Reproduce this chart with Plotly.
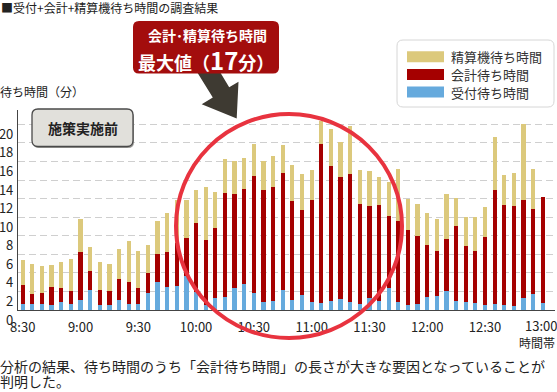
import plotly.graph_objects as go

# ---- data (minutes) ----
times = ["8:30","8:35","8:40","8:45","8:50","8:55",
         "9:00","9:05","9:10","9:15","9:20","9:25",
         "9:30","9:35","9:40","9:45","9:50","9:55",
         "10:00","10:05","10:10","10:15","10:20","10:25",
         "10:30","10:35","10:40","10:45","10:50","10:55",
         "11:00","11:05","11:10","11:15","11:20","11:25",
         "11:30","11:35","11:40","11:45","11:50","11:55",
         "12:00","12:05","12:10","12:15","12:20","12:25",
         "12:30","12:35","12:40","12:45","12:50","12:55",
         "13:00"]
tick_labels = ["8:30","9:00","9:30","10:00","10:30","11:00","11:30","12:00","12:30","13:00"]

uketsuke = [0.7,0.7,0.7,0.5,0.9,0.7,1.1,2.2,0.5,0.5,1.1,0.7,0.7,1.8,3.0,2.5,2.6,3.7,
            1.9,0.5,1.3,1.4,2.4,2.8,1.8,0.9,1.0,2.2,1.1,1.6,0.9,0.8,1.0,1.2,0.9,0.7,
            1.3,1.0,2.4,0.9,0.5,0.7,1.4,1.5,2.1,1.0,0.9,0.8,0.5,0.7,0.5,0.4,1.3,1.7,0.8]
kaikei = [2.0,1.0,1.1,2.0,1.5,1.4,5.2,2.0,1.7,1.5,2.2,2.3,1.7,2.2,3.0,3.7,4.6,4.1,
          7.5,7.0,7.5,11.2,10.1,10.2,12.6,12.0,12.3,12.6,10.6,9.2,11.0,17.1,14.5,13.1,13.7,10.7,
          9.9,10.3,7.7,8.7,8.1,7.3,5.6,4.9,5.6,8.1,6.0,5.6,7.4,12.2,10.8,10.8,10.6,9.2,11.4]
seisanki = [2.7,3.3,2.9,2.4,2.8,3.4,3.5,2.6,3.0,3.0,3.3,4.4,4.0,3.0,3.6,4.3,4.6,4.1,
            3.5,5.8,3.9,3.7,3.6,3.4,3.5,3.1,3.3,3.0,3.9,3.8,3.2,2.5,4.0,3.8,5.2,3.7,
            3.8,3.0,3.7,5.6,3.4,3.4,3.4,3.4,4.8,3.0,3.1,3.6,3.2,5.7,3.2,3.6,8.1,4.3,0.0]

series_names = ["精算機待ち時間", "会計待ち時間", "受付待ち時間"]
colors = {"精算機待ち時間": "#dcc97c", "会計待ち時間": "#a50000", "受付待ち時間": "#66aadd"}
y_ticks = [0, 2, 4, 6, 8, 10, 12, 14, 16, 18, 20]

FONT = "Noto Sans CJK JP"
W, H = 557, 392
L, R, T, B = 18, 555, 110, 310


def px(x):
    return (x - L) / (R - L)


def py(y):
    return (B - y) / (B - T)


def rounded_rect(x0, y0, x1, y1, r):
    pts = [
        f"M {px(x0 + r)},{py(y0)}",
        f"L {px(x1 - r)},{py(y0)}",
        f"Q {px(x1)},{py(y0)} {px(x1)},{py(y0 + r)}",
        f"L {px(x1)},{py(y1 - r)}",
        f"Q {px(x1)},{py(y1)} {px(x1 - r)},{py(y1)}",
        f"L {px(x0 + r)},{py(y1)}",
        f"Q {px(x0)},{py(y1)} {px(x0)},{py(y1 - r)}",
        f"L {px(x0)},{py(y0 + r)}",
        f"Q {px(x0)},{py(y0)} {px(x0 + r)},{py(y0)}",
        "Z",
    ]
    return " ".join(pts)


def text(t, x, y, size, color="#222", xanchor="left", bold=False):
    return dict(text=(f"<b>{t}</b>" if bold else t), x=px(x), y=py(y), xref="paper", yref="paper",
                xanchor=xanchor, yanchor="middle", showarrow=False, borderpad=0,
                font=dict(size=size, color=color, family=FONT))


fig = go.Figure()
for name, vals in [("受付待ち時間", uketsuke), ("会計待ち時間", kaikei), ("精算機待ち時間", seisanki)]:
    fig.add_trace(go.Bar(x=times, y=vals, name=name, marker_color=colors[name],
                         marker_line_width=0, showlegend=False, hoverinfo="skip"))

shapes = []
annotations = []

annotations.append(text("■受付+会計+精算機待ち時間の調査結果", 0, 7, 12))
annotations.append(text("待ち時間（分）", -1, 91, 12))
annotations.append(text("時間帯", 556, 342, 12, xanchor="right"))
annotations.append(text("分析の結果、待ち時間のうち「会計待ち時間」の長さが大きな要因となっていることが", -1, 366, 14))
annotations.append(text("判明した。", -1, 381, 14))

# last x tick label drawn slightly inside the right edge (as in the reference)
annotations.append(dict(text=tick_labels[-1], x=tick_labels[-1], y=0, xref="x", yref="y",
                        xanchor="right", yanchor="middle", xshift=15, yshift=-15, showarrow=False,
                        borderpad=0, font=dict(size=13, color="#222", family=FONT)))

# 施策実施前 box
shapes.append(dict(type="path", path=rounded_rect(33, 111, 134, 148, 6), xref="paper", yref="paper",
                   fillcolor="#9a9a96", line=dict(width=0), layer="above"))
shapes.append(dict(type="path", path=rounded_rect(32, 109, 133, 146.5, 6), xref="paper", yref="paper",
                   fillcolor="#e1e0db", line=dict(color="#4a4a4a", width=1.3), layer="above"))
annotations.append(text("施策実施前", 82.5, 128, 14, xanchor="center", bold=True))

# legend box
shapes.append(dict(type="path", path=rounded_rect(397, 40, 554, 107, 6), xref="paper", yref="paper",
                   fillcolor="white", line=dict(color="#d6d6d6", width=1), layer="above"))
for i, name in enumerate(series_names):
    cy = 56.7 + i * 17.7
    shapes.append(dict(type="rect", x0=px(407), x1=px(444), y0=py(cy - 5.5), y1=py(cy + 5.5),
                       xref="paper", yref="paper", fillcolor=colors[name], line=dict(width=0), layer="above"))
    annotations.append(text(name, 450, cy, 13, color="#333"))

# red circle
shapes.append(dict(type="circle", x0=px(176), x1=px(402), y0=py(114), y1=py(338),
                   xref="paper", yref="paper", line=dict(color="#e8333f", width=4), layer="above"))

# arrow
arrow_pts = [(197, 72), (212.8, 97.5), (201.7, 104.3), (236.7, 118.5), (238.5, 81.7), (229.2, 87.3), (220, 72)]
arrow_path = "M " + " L ".join(f"{px(a)},{py(b)}" for a, b in arrow_pts) + " Z"
shapes.append(dict(type="path", path=arrow_path, xref="paper", yref="paper",
                   fillcolor="#3e3a32", line=dict(width=0), layer="above"))

# callout box
shapes.append(dict(type="path", path=rounded_rect(133, 21, 279, 73.5, 6), xref="paper", yref="paper",
                   fillcolor="#a30d0d", line=dict(width=0), layer="above"))
annotations.append(text("会計･精算待ち時間", 207, 35, 14, color="white", xanchor="center", bold=True))
annotations.append(dict(text="<b>最大値（<span style='font-size:24px'>17</span>分）</b>", x=px(206), y=py(59),
                        xref="paper", yref="paper", xanchor="center", yanchor="middle", showarrow=False,
                        borderpad=0, font=dict(size=18, color="white", family=FONT)))

fig.update_layout(
    width=W, height=H,
    margin=dict(l=L, r=W - R, t=T, b=H - B, autoexpand=False),
    barmode="stack", bargap=0.56,
    plot_bgcolor="white", paper_bgcolor="white",
    font=dict(family=FONT, color="#222"),
    shapes=shapes, annotations=annotations,
    xaxis=dict(type="category", range=[-0.49, 55.27], tickvals=tick_labels[:-1], ticktext=tick_labels[:-1],
               showgrid=False, showline=True, linecolor="#444", linewidth=1.2, ticks="",
               automargin=False,
               tickfont=dict(size=13, color="#222", family=FONT), ticklabelstandoff=5),
    yaxis=dict(range=[0, 21.54], tickvals=y_ticks, ticktext=[str(v) for v in y_ticks],
               showgrid=True, gridcolor="#cfcfcf", griddash="7px,4px", gridwidth=1,
               zeroline=False, showline=True, linecolor="#444", linewidth=1.2, ticks="",
               automargin=False,
               ticklabelshift=10, ticklabelstandoff=1,
               tickfont=dict(size=13, color="#222", family=FONT)),
    showlegend=False,
)

fig.write_html("out.html", config={"displayModeBar": False},
               post_script="document.body.style.margin='0';document.body.style.overflow='hidden';")
